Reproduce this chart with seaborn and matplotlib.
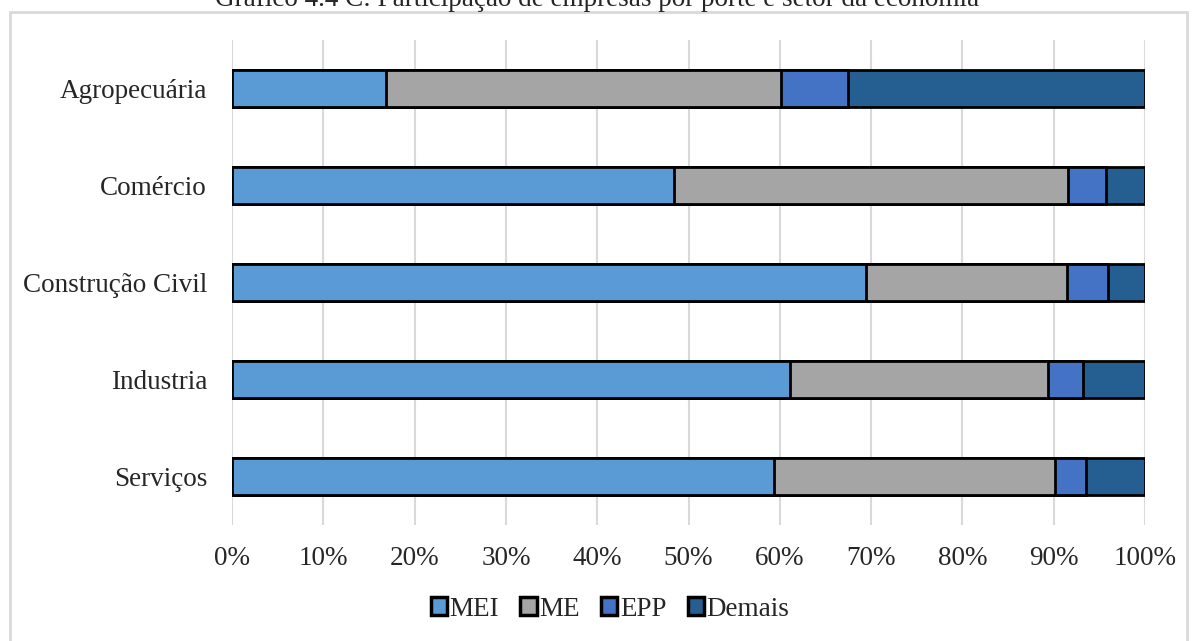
import numpy as np
import pandas as pd
import seaborn as sns
import matplotlib.pyplot as plt
from matplotlib.patches import Patch, Rectangle

setores = ["Agropecuária", "Comércio", "Construção Civil", "Industria", "Serviços"]
portes = ["MEI", "ME", "EPP", "Demais"]
mei = [16.9, 48.4, 69.4, 61.1, 59.4]
me = [43.2, 43.2, 22.1, 28.3, 30.7]
epp = [7.4, 4.1, 4.4, 3.8, 3.4]
demais = [32.5, 4.3, 4.1, 6.8, 6.5]
cores = ["#5B9BD5", "#A5A5A5", "#4472C4", "#255E91"]
xticks = [0, 10, 20, 30, 40, 50, 60, 70, 80, 90, 100]

sns.set_style("white")
plt.rcParams["font.family"] = ["Liberation Serif", "DejaVu Serif"]

df = pd.DataFrame({"Setor": setores, "MEI": mei, "ME": me, "EPP": epp, "Demais": demais})
cum = df[portes].cumsum(axis=1)

fig = plt.figure(figsize=(11.95, 6.41), dpi=100)
ax = fig.add_axes([232 / 1195, 1 - 525 / 641, (1145 - 232) / 1195, 485 / 641])

# desenha do total para o primeiro segmento, sobrepondo
for p, c in reversed(list(zip(portes, cores))):
    sns.barplot(x=cum[p], y=df["Setor"], orient="h", color=c, width=0.38, saturation=1,
                edgecolor="black", linewidth=2, ax=ax, zorder=3)

ax.set_xlim(0, 100)
ax.set_ylim(4.5, -0.5)
ax.set_xticks(xticks)
ax.set_xticklabels([f"{t}%" for t in xticks])
ax.grid(axis="x", color="#D9D9D9", linewidth=1.5, zorder=0)
ax.set_axisbelow(True)
for s in ax.spines.values():
    s.set_visible(False)
ax.tick_params(axis="both", length=0, labelsize=19.5)
ax.tick_params(axis="y", pad=18)
ax.tick_params(axis="x", pad=15)
ax.set_xlabel("")
ax.set_ylabel("")

handles = [Patch(facecolor=c, edgecolor="black", linewidth=2.5, label=p) for p, c in zip(portes, cores)]
fig.legend(handles=handles, loc="center", bbox_to_anchor=(610 / 1195, 1 - 609 / 641), ncol=4,
           frameon=False, fontsize=19.5, handlelength=0.6, handleheight=0.6,
           handletextpad=0.1, columnspacing=0.78)

fig.patches.append(Rectangle((10 / 1195, -0.05), 1177 / 1195, 1 - 12 / 641 + 0.05,
                             transform=fig.transFigure, fill=False,
                             edgecolor="#D9D9D9", linewidth=2))
fig.text(0.5, 1 - 6 / 641, "Gráfico 4.4 C: Participação de empresas por porte e setor da economia",
         ha="center", va="baseline", fontsize=19.5)

fig.savefig("out.png", dpi=100)
